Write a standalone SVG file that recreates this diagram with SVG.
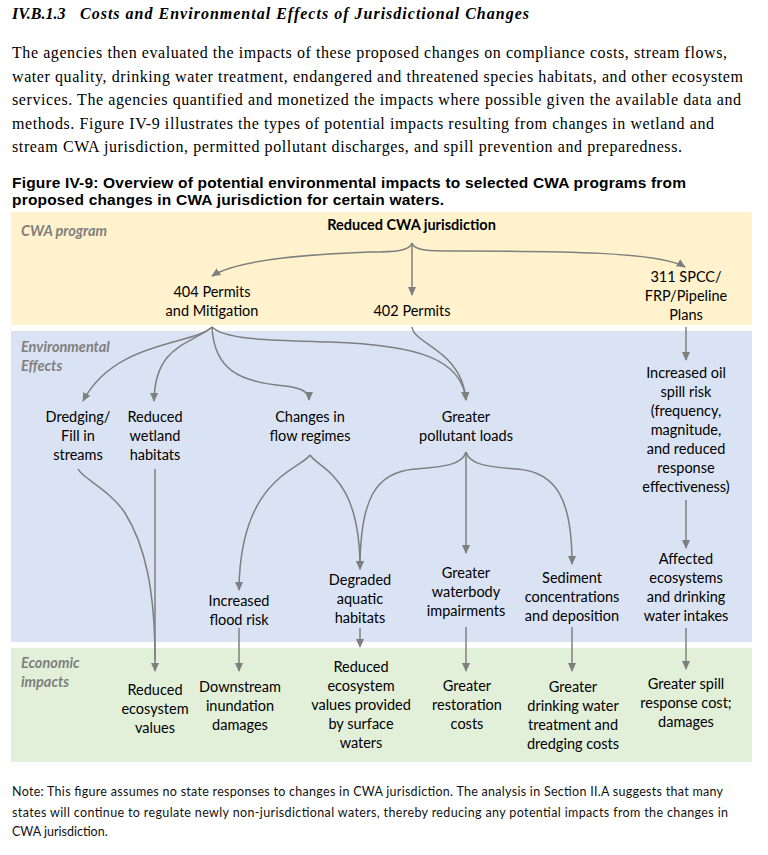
<svg xmlns="http://www.w3.org/2000/svg" width="768" height="855" viewBox="0 0 768 855">
<defs>
<marker id="ah" viewBox="0 0 10 10" refX="9" refY="5" markerUnits="userSpaceOnUse" markerWidth="9" markerHeight="9" orient="auto">
<path d="M0,0.5 L10,5 L0,9.5 z" fill="#7F7F7F"/>
</marker>
</defs>
<style>
.hd{font-family:"Liberation Serif",serif;font-weight:bold;font-style:italic;font-size:16px;fill:#000}
.p{font-family:"Liberation Serif",serif;font-size:16px;fill:#000}
.ft{font-family:"Liberation Sans",Arial,sans-serif;font-weight:bold;font-size:15.5px;fill:#000}
.t{font-family:Lato,"Liberation Sans",sans-serif;font-size:14.5px;fill:#000;text-anchor:middle}
.tb{font-weight:bold}
.lbl{font-family:Lato,"Liberation Sans",sans-serif;font-size:14.5px;font-weight:bold;font-style:italic;fill:#7F7F7F}
.nt{font-family:Lato,"Liberation Sans",sans-serif;font-size:12.5px;fill:#111}
.c{fill:none;stroke:#7F7F7F;stroke-width:1.5;marker-end:url(#ah)}
.c0{fill:none;stroke:#7F7F7F;stroke-width:1.5}
</style>
<rect width="768" height="855" fill="#FFFFFF"/>

<g id="header">
<text class="hd" x="12" y="19">IV.B.1.3</text>
<text class="hd" x="80" y="19" textLength="449">Costs and Environmental Effects of Jurisdictional Changes</text>
<text class="p" x="12" y="58" textLength="715">The agencies then evaluated the impacts of these proposed changes on compliance costs, stream flows,</text>
<text class="p" x="12" y="81.5" textLength="731">water quality, drinking water treatment, endangered and threatened species habitats, and other ecosystem</text>
<text class="p" x="12" y="105" textLength="729">services. The agencies quantified and monetized the impacts where possible given the available data and</text>
<text class="p" x="12" y="128.5" textLength="702">methods. Figure IV-9 illustrates the types of potential impacts resulting from changes in wetland and</text>
<text class="p" x="12" y="152" textLength="670">stream CWA jurisdiction, permitted pollutant discharges, and spill prevention and preparedness.</text>
<text class="ft" x="12" y="188" textLength="674">Figure IV-9: Overview of potential environmental impacts to selected CWA programs from</text>
<text class="ft" x="12" y="205" textLength="432">proposed changes in CWA jurisdiction for certain waters.</text>
</g>

<g id="bands">
<rect id="band-program" x="11" y="212" width="741" height="113" fill="#FFF2CC"/>
<rect id="band-environmental" x="11" y="331" width="741" height="311" fill="#DAE3F3"/>
<rect id="band-economic" x="11" y="648" width="741" height="114" fill="#E2F0D9"/>
<text class="lbl" x="21" y="236">CWA program</text>
<text class="lbl" x="21" y="352">Environmental</text>
<text class="lbl" x="21" y="371">Effects</text>
<text class="lbl" x="21" y="668">Economic</text>
<text class="lbl" x="21" y="687">impacts</text>
</g>

<g id="connectors">
<path class="c" d="M412,243 C410,251 395,252 370,252 C320,254 240,258 212,276"/>
<path class="c" d="M412,243 L412,295"/>
<path class="c" d="M412,243 C414,251 430,251 455,251 C560,251 660,252 685,267"/>
<path class="c" d="M212,327 C195,345 115,340 83,401"/>
<path class="c" d="M212,327 C190,345 155,345 154,401"/>
<path class="c" d="M212,327 C214,370 240,382 285,386 C302,388 309,392 309,400"/>
<path class="c" d="M212,327 C225,340 270,340 330,342 C420,345 462,360 466,400"/>
<path class="c" d="M412,327 C414,345 462,350 466,400"/>
<path class="c" d="M686,327 L686,360"/>
<path class="c" d="M686,500 L686,548"/>
<path class="c" d="M686,628 L686,669"/>
<path class="c0" d="M78,469 C82,478 110,490 125,513 C145,545 155,590 155,660"/>
<path class="c" d="M155,469 L155,671"/>
<path class="c" d="M310,455 C300,470 240,478 239,590"/>
<path class="c" d="M310,455 C320,470 360,475 360,569"/>
<path class="c" d="M466,452 C462,466 440,467 415,469 C375,472 360,500 360,569"/>
<path class="c" d="M466,452 L466,553"/>
<path class="c" d="M466,452 C470,466 492,467 517,469 C557,472 572,500 572,564"/>
<path class="c" d="M360,628 L360,647"/>
<path class="c" d="M239,628 L239,671"/>
<path class="c" d="M466,627 L466,671"/>
<path class="c" d="M572,627 L572,671"/>
</g>

<g id="n-reduced-cwa"><text class="t tb" x="411.5" y="230">Reduced CWA jurisdiction</text></g>
<g id="n-404"><text class="t" x="212" y="297">404 Permits</text><text class="t" x="212" y="316">and Mitigation</text></g>
<g id="n-402"><text class="t" x="412" y="316">402 Permits</text></g>
<g id="n-311"><text class="t" x="686" y="282">311 SPCC/</text><text class="t" x="686" y="301">FRP/Pipeline</text><text class="t" x="686" y="320">Plans</text></g>

<g id="n-dredging"><text class="t" x="78" y="422">Dredging/</text><text class="t" x="78" y="441">Fill in</text><text class="t" x="78" y="460">streams</text></g>
<g id="n-wetland"><text class="t" x="155" y="422">Reduced</text><text class="t" x="155" y="441">wetland</text><text class="t" x="155" y="460">habitats</text></g>
<g id="n-flow"><text class="t" x="310" y="422">Changes in</text><text class="t" x="310" y="441">flow regimes</text></g>
<g id="n-pollutant"><text class="t" x="466" y="422">Greater</text><text class="t" x="466" y="441">pollutant loads</text></g>
<g id="n-oil"><text class="t" x="686" y="378">Increased oil</text><text class="t" x="686" y="397">spill risk</text><text class="t" x="686" y="416">(frequency,</text><text class="t" x="686" y="435">magnitude,</text><text class="t" x="686" y="454">and reduced</text><text class="t" x="686" y="473">response</text><text class="t" x="686" y="492">effectiveness)</text></g>
<g id="n-flood"><text class="t" x="239" y="606">Increased</text><text class="t" x="239" y="625">flood risk</text></g>
<g id="n-degraded"><text class="t" x="360" y="585">Degraded</text><text class="t" x="360" y="604">aquatic</text><text class="t" x="360" y="623">habitats</text></g>
<g id="n-waterbody"><text class="t" x="466" y="578">Greater</text><text class="t" x="466" y="597">waterbody</text><text class="t" x="466" y="616">impairments</text></g>
<g id="n-sediment"><text class="t" x="572" y="583">Sediment</text><text class="t" x="572" y="602">concentrations</text><text class="t" x="572" y="621">and deposition</text></g>
<g id="n-affected"><text class="t" x="686" y="564">Affected</text><text class="t" x="686" y="583">ecosystems</text><text class="t" x="686" y="602">and drinking</text><text class="t" x="686" y="621">water intakes</text></g>

<g id="n-eco-values"><text class="t" x="155" y="695">Reduced</text><text class="t" x="155" y="714">ecosystem</text><text class="t" x="155" y="733">values</text></g>
<g id="n-downstream"><text class="t" x="240" y="692">Downstream</text><text class="t" x="240" y="711">inundation</text><text class="t" x="240" y="730">damages</text></g>
<g id="n-surface"><text class="t" x="361" y="672">Reduced</text><text class="t" x="361" y="691">ecosystem</text><text class="t" x="361" y="710">values provided</text><text class="t" x="361" y="729">by surface</text><text class="t" x="361" y="748">waters</text></g>
<g id="n-restoration"><text class="t" x="467" y="691">Greater</text><text class="t" x="467" y="710">restoration</text><text class="t" x="467" y="729">costs</text></g>
<g id="n-drinking"><text class="t" x="573" y="692">Greater</text><text class="t" x="573" y="711">drinking water</text><text class="t" x="573" y="730">treatment and</text><text class="t" x="573" y="749">dredging costs</text></g>
<g id="n-spill"><text class="t" x="686" y="689">Greater spill</text><text class="t" x="686" y="708">response cost;</text><text class="t" x="686" y="727">damages</text></g>

<g id="note">
<text class="nt" x="12" y="796" textLength="711">Note: This figure assumes no state responses to changes in CWA jurisdiction. The analysis in Section II.A suggests that many</text>
<text class="nt" x="12" y="817" textLength="716">states will continue to regulate newly non-jurisdictional waters, thereby reducing any potential impacts from the changes in</text>
<text class="nt" x="12" y="836">CWA jurisdiction.</text>
</g>
</svg>
